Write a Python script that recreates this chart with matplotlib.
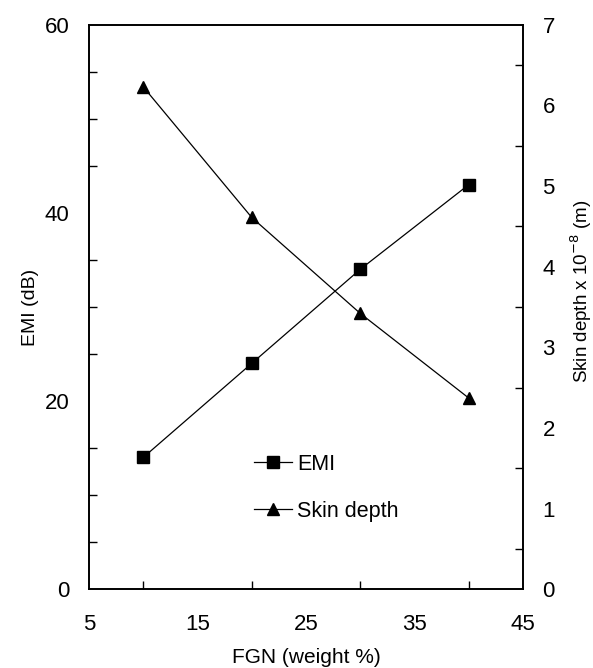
import matplotlib
matplotlib.use("Agg")
import matplotlib.pyplot as plt
from matplotlib.ticker import MultipleLocator, FixedLocator

plt.rcParams['font.family'] = ['Liberation Sans', 'DejaVu Sans']

fgn = [10, 20, 30, 40]
emi = [14, 24, 34, 43]
skin_depth = [6.23, 4.61, 3.42, 2.37]
x_tick_labels = [5, 15, 25, 35, 45]

fig = plt.figure(figsize=(5.93, 6.68), dpi=100)
ax = fig.add_axes([0.150, 0.118, 0.732, 0.845])
ax2 = ax.twinx()

l1, = ax.plot(fgn, emi, color='black', lw=0.9, marker='s', ms=8, label='EMI')
l2, = ax2.plot(fgn, skin_depth, color='black', lw=0.9, marker='^', ms=8.5, label='Skin depth')

ax.set_xlim(5, 45)
ax.set_ylim(0, 60)
ax2.set_ylim(0, 7)

ax.xaxis.set_major_locator(FixedLocator(x_tick_labels))
ax.xaxis.set_minor_locator(MultipleLocator(5))
ax.yaxis.set_major_locator(MultipleLocator(20))
ax.yaxis.set_minor_locator(MultipleLocator(5))
ax2.yaxis.set_major_locator(MultipleLocator(1))
ax2.yaxis.set_minor_locator(MultipleLocator(0.5))

ax.tick_params(axis='x', which='both', direction='in', length=6, width=1, labelsize=16, pad=18)
ax.tick_params(axis='y', which='both', direction='in', length=6, width=1, labelsize=16, pad=14)
ax2.tick_params(axis='y', which='both', direction='in', length=6, width=1, labelsize=16, pad=14)
ax.tick_params(axis='x', which='major', length=0)
ax.tick_params(axis='y', which='major', length=0)
ax2.tick_params(axis='y', which='major', length=0)

for a in (ax, ax2):
    for s in a.spines.values():
        s.set_linewidth(1.2)

ax.set_xlabel('FGN (weight %)', fontsize=15, labelpad=9)
ax.set_ylabel('EMI (dB)', fontsize=14, labelpad=4)
ax2.set_ylabel('Skin depth x 10$^{-8}$ (m)', fontsize=13.5)
ax2.yaxis.set_label_coords(1.105, 0.528)

ax.legend(handles=[l1, l2], loc='upper left', bbox_to_anchor=(0.36, 0.255),
          frameon=False, fontsize=15.5, handlelength=1.75, handletextpad=0.25,
          labelspacing=1.2, borderaxespad=0)

fig.savefig('out.png', dpi=100)
